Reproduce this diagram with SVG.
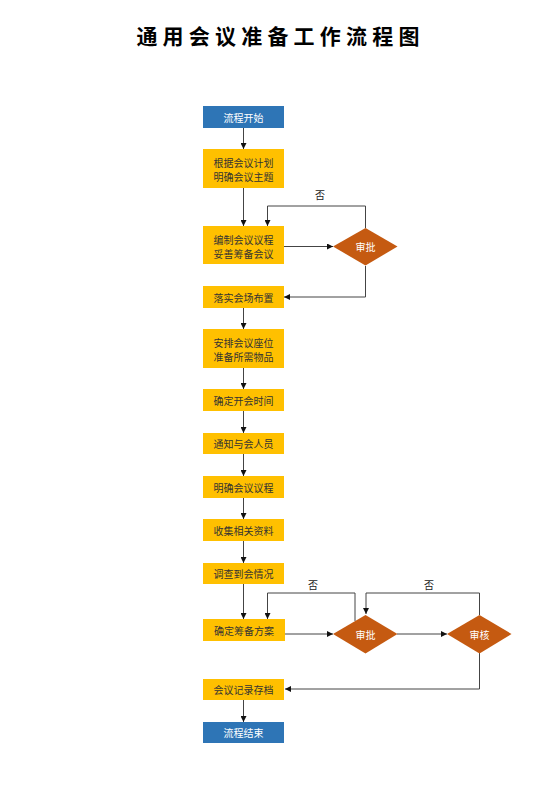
<svg xmlns="http://www.w3.org/2000/svg" width="560" height="792" viewBox="0 0 560 792">
<defs>
<marker id="arr" viewBox="0 0 10 10" refX="10" refY="5" markerWidth="6" markerHeight="6" markerUnits="userSpaceOnUse" orient="auto">
<path d="M0,0 L10,5 L0,10 z" fill="#111"/>
</marker>
<style>
text{font-family:"Noto Sans CJK SC","Noto Sans",sans-serif;text-anchor:middle;dominant-baseline:central}
.title{font-size:21px;font-weight:bold;letter-spacing:5.2px;fill:#000}
.y{fill:#FFC000}
.b{fill:#2E75B6}
.d{fill:#C55A11}
.ty{font-size:10px;fill:#333}
.tw{font-size:10px;fill:#fff}
.lbl{font-size:10px;fill:#222}
.c{fill:none;stroke:#444;stroke-width:1;marker-end:url(#arr)}
</style>
</defs>
<rect width="560" height="792" fill="#fff"/>
<text class="title" x="280.5" y="35">通用会议准备工作流程图</text>

<g id="connectors">
<path class="c" d="M243.5,128 V149"/>
<path class="c" d="M243.5,188 V226"/>
<path class="c" d="M284,246.5 H333"/>
<path class="c" d="M365.5,228 V206 H267.5 V226"/>
<path class="c" d="M365.5,266 V297 H284"/>
<path class="c" d="M243.5,308 V329"/>
<path class="c" d="M243.5,368 V389"/>
<path class="c" d="M243.5,411 V433"/>
<path class="c" d="M243.5,454 V476"/>
<path class="c" d="M243.5,498 V519"/>
<path class="c" d="M243.5,541 V563"/>
<path class="c" d="M243.5,584 V619"/>
<path class="c" d="M285,634 H333"/>
<path class="c" d="M355,621 V593 H267.5 V619"/>
<path class="c" d="M397,634 H447"/>
<path class="c" d="M479.5,615 V593 H366 V614"/>
<path class="c" d="M479.5,653 V689 H285"/>
<path class="c" d="M243.5,700 V722"/>
</g>
<text class="lbl" x="320" y="194">否</text>
<text class="lbl" x="313" y="584">否</text>
<text class="lbl" x="429" y="584">否</text>

<g id="start"><rect class="b" x="203" y="106" width="81" height="22"/><text class="tw" x="243.5" y="117">流程开始</text></g>
<g id="n1"><rect class="y" x="203" y="149" width="81" height="39"/><text class="ty" x="243.5" y="162">根据会议计划</text><text class="ty" x="243.5" y="176">明确会议主题</text></g>
<g id="n2"><rect class="y" x="203" y="226" width="81" height="38"/><text class="ty" x="243.5" y="239">编制会议议程</text><text class="ty" x="243.5" y="253">妥善筹备会议</text></g>
<g id="d1"><path class="d" d="M333,246.5 L365.5,228 L397.5,246.5 L365.5,265.5 z"/><text class="tw" x="365.5" y="246.5">审批</text></g>
<g id="n3"><rect class="y" x="203" y="286" width="81" height="22"/><text class="ty" x="243.5" y="297">落实会场布置</text></g>
<g id="n4"><rect class="y" x="203" y="329" width="81" height="39"/><text class="ty" x="243.5" y="342">安排会议座位</text><text class="ty" x="243.5" y="356">准备所需物品</text></g>
<g id="n5"><rect class="y" x="203" y="389" width="81" height="22"/><text class="ty" x="243.5" y="400">确定开会时间</text></g>
<g id="n6"><rect class="y" x="203" y="433" width="81" height="21"/><text class="ty" x="243.5" y="443.5">通知与会人员</text></g>
<g id="n7"><rect class="y" x="203" y="476" width="81" height="22"/><text class="ty" x="243.5" y="487">明确会议议程</text></g>
<g id="n8"><rect class="y" x="203" y="519" width="81" height="22"/><text class="ty" x="243.5" y="530">收集相关资料</text></g>
<g id="n9"><rect class="y" x="203" y="563" width="81" height="21"/><text class="ty" x="243.5" y="573.5">调查到会情况</text></g>
<g id="n10"><rect class="y" x="203" y="619" width="82" height="22"/><text class="ty" x="244" y="630">确定筹备方案</text></g>
<g id="d2"><path class="d" d="M333,634 L365.5,615 L397.5,634 L365.5,653.5 z"/><text class="tw" x="365.5" y="634">审批</text></g>
<g id="d3"><path class="d" d="M447,634 L479.5,615 L511.5,634 L479.5,653.5 z"/><text class="tw" x="479.5" y="634">审核</text></g>
<g id="n11"><rect class="y" x="203" y="679" width="81" height="21"/><text class="ty" x="243.5" y="689.5">会议记录存档</text></g>
<g id="end"><rect class="b" x="203" y="722" width="81" height="21"/><text class="tw" x="243.5" y="732.5">流程结束</text></g>
</svg>
